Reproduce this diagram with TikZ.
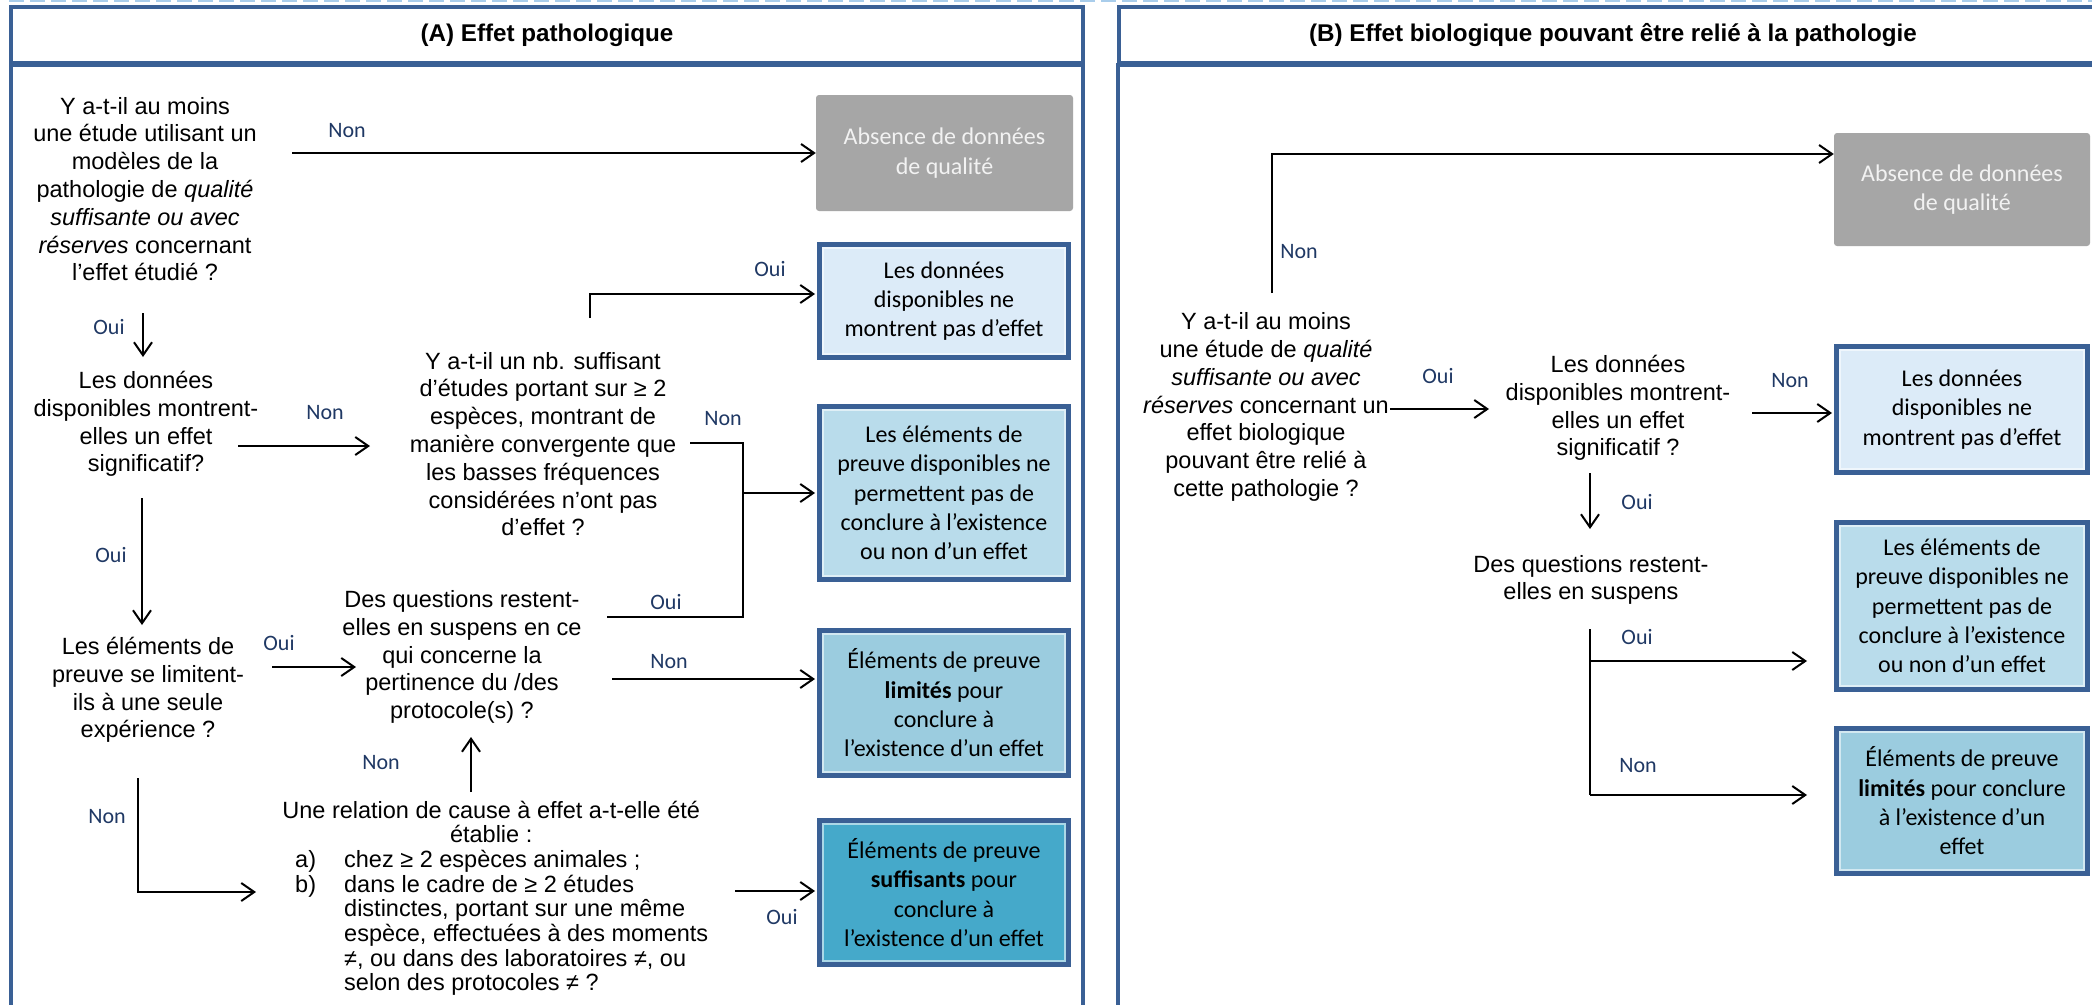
\documentclass[tikz,border=0pt]{standalone}
\usepackage{fontspec}
\setmainfont{Liberation Sans}
\newfontfamily\calib{Carlito}
\usetikzlibrary{arrows.meta}
\definecolor{frame}{HTML}{3A6095}
\definecolor{lbl}{HTML}{1F3864}
\definecolor{fone}{HTML}{DCEBF8}
\definecolor{ftwo}{HTML}{B9DCEB}
\definecolor{fthree}{HTML}{9BCCDF}
\definecolor{ffour}{HTML}{45A9CA}
\definecolor{gbox}{HTML}{A6A6A6}
\definecolor{dashc}{HTML}{A9CDEB}
\begin{document}
\begin{tikzpicture}[x=1pt,y=-1pt,
  panel/.style={draw=frame, line width=4pt},
  ttl/.style={font=\fontsize{24.2}{28}\selectfont\bfseries, inner sep=0pt},
  qtext/.style={align=center, inner sep=0pt, font=\fontsize{23.5}{27.8}\selectfont},
  res/.style={draw=frame, line width=5pt, fill=#1, minimum width=249pt, align=center, inner sep=0pt,
    font=\calib\fontsize{24}{29.3}\selectfont,
    path picture={\draw[line width=2pt, #1!45!white] ([xshift=3.5pt,yshift=-3.5pt]path picture bounding box.north west) rectangle ([xshift=-3.5pt,yshift=3.5pt]path picture bounding box.south east);}},
  nodata/.style={fill=gbox, rounded corners=3pt, minimum width=257pt, align=center, inner sep=0pt,
    text=white!95!black, font=\calib\fontsize{24}{29.3}\selectfont},
  lab/.style={text=lbl, font=\calib\fontsize{22}{26}\selectfont, inner sep=0pt},
  arr/.style={draw=black, line width=2pt, -{Straight Barb[length=13pt,width=18pt]}},
  ln/.style={draw=black, line width=2.6pt, line join=miter},
]
\useasboundingbox (0,0) rectangle (2092,1004);
\clip (0,0) rectangle (2092,1004);
\fill[white] (0,0) rectangle (2092,1004);

% top dashed line
\draw[dashc, line width=3.5pt, dash pattern=on 15pt off 6pt] (9,0) -- (2092,0);

% panels
\draw[panel] (11,7) rectangle (1083,63);
\draw[panel] (11,65) rectangle (1083,1040);
\draw[panel] (1119,7) rectangle (2108,63);
\draw[panel] (1118,65) rectangle (2108,1040);

\node[ttl] (tA) at (547,35) {(A) Effet pathologique};
\node[ttl] (tB) at (1613,35) {(B) Effet biologique pouvant être relié à la pathologie};

% ---------- Panel A: questions
\node[qtext] (q1) at (145,189) {Y a-t-il au moins\\une étude utilisant un\\modèles de la\\pathologie de \textit{qualité}\\\textit{suffisante ou avec}\\\textit{réserves} concernant\\l’effet étudié ?};
\node[qtext] (qd) at (146,424) {Les données\\disponibles montrent-\\elles un effet\\significatif?};
\node[qtext] (q2) at (543,444) {Y a-t-il un nb. suffisant\\d’études portant sur ≥ 2\\espèces, montrant de\\manière convergente que\\les basses fréquences\\considérées n’ont pas\\d’effet ?};
\node[qtext] (q3) at (462,657) {Des questions restent-\\elles en suspens en ce\\qui concerne la\\pertinence du /des\\protocole(s) ?};
\node[qtext] (q4) at (148,690) {Les éléments de\\preuve se limitent-\\ils à une seule\\expérience ?};
\node[anchor=base west, inner sep=0pt, font=\fontsize{23.5}{24.7}\selectfont] (q5) at (278,818) {\begin{minipage}[t]{480pt}\makebox[426pt][c]{Une relation de cause à effet a-t-elle été}\par
\makebox[426pt][c]{établie :}\par\raggedright
\leftskip=17pt \makebox[49pt][l]{a)}chez ≥ 2 espèces animales ;\par
\leftskip=66pt \hspace*{-49pt}\makebox[49pt][l]{b)}dans le cadre de ≥ 2 études\\distinctes, portant sur une même\\espèce, effectuées à des moments\\≠, ou dans des laboratoires ≠, ou\\selon des protocoles ≠ ?\end{minipage}};

% ---------- Panel A: results
\node[nodata, minimum height=116pt] (n1) at (944.5,153) {Absence de données\\de qualité};
\node[res=fone, minimum height=113pt] (b1) at (944,301) {Les données\\disponibles ne\\montrent pas d’effet};
\node[res=ftwo, minimum height=173pt] (b2) at (944,493) {Les éléments de\\preuve disponibles ne\\permettent pas de\\conclure à l’existence\\ou non d’un effet};
\node[res=fthree, minimum height=145pt] (b3) at (944,703) {Éléments de preuve\\\textbf{limités} pour\\conclure à\\l’existence d’un effet};
\node[res=ffour, minimum height=144pt] (b4) at (944,892.5) {Éléments de preuve\\\textbf{suffisants} pour\\conclure à\\l’existence d’un effet};

% ---------- Panel A: connectors
\coordinate (a1s) at (292,153);
\draw[arr] (a1s) -- (n1.west |- a1s);
\coordinate (a2s) at (143,313); \coordinate (a2e) at (143,357);
\draw[arr] (a2s) -- (a2e);
\coordinate (a3s) at (238,446); \coordinate (a3e) at (370,446);
\draw[arr] (a3s) -- (a3e);
\coordinate (a4s) at (590,318); \coordinate (a4m) at (590,294);
\draw[arr, shorten >=2pt] (a4s) -- (a4m) -- (b1.west |- a4m);
\coordinate (brT) at (690,443); \coordinate (brR) at (743,443);
\coordinate (brB) at (743,617); \coordinate (q3o) at (607,617);
\draw[ln] (brT) -- (brR) -- (brB) -- (q3o);
\coordinate (brM) at (743,493);
\draw[arr, shorten >=2pt] (brM) -- (b2.west |- brM);
\coordinate (a6s) at (142,498); \coordinate (a6e) at (142,625);
\draw[arr] (a6s) -- (a6e);
\coordinate (a7s) at (272,667); \coordinate (a7e) at (356,667);
\draw[arr] (a7s) -- (a7e);
\coordinate (a8s) at (612,679);
\draw[arr, shorten >=2pt] (a8s) -- (b3.west |- a8s);
\coordinate (a9s) at (471,792); \coordinate (a9e) at (471,737);
\draw[arr] (a9s) -- (a9e);
\coordinate (a10s) at (138,778); \coordinate (a10m) at (138,892); \coordinate (a10e) at (256,892);
\draw[arr] (a10s) -- (a10m) -- (a10e);
\coordinate (a11s) at (735,891);
\draw[arr, shorten >=2pt] (a11s) -- (b4.west |- a11s);

% ---------- Panel A: labels
\node[lab] (l1) at (347,131) {Non};
\node[lab] (l2) at (109,327) {Oui};
\node[lab] (l3) at (325,413) {Non};
\node[lab] (l4) at (770,269) {Oui};
\node[lab] (l5) at (723,419) {Non};
\node[lab] (l6) at (666,602) {Oui};
\node[lab] (l7) at (111,555) {Oui};
\node[lab] (l8) at (279,643) {Oui};
\node[lab] (l9) at (669,662) {Non};
\node[lab] (l10) at (381,763) {Non};
\node[lab] (l11) at (107,817) {Non};
\node[lab] (l12) at (782,917) {Oui};

% ---------- Panel B
\node[qtext] (p1) at (1266,407) {Y a-t-il au moins\\une étude de \textit{qualité}\\\textit{suffisante ou avec}\\\textit{réserves} concernant un\\effet biologique\\pouvant être relié à\\cette pathologie ?};
\node[qtext] (p2) at (1618,408) {Les données\\disponibles montrent-\\elles un effet\\significatif ?};
\node[qtext] (p3) at (1591,580) {Des questions restent-\\elles en suspens};

\node[nodata, minimum width=256pt, minimum height=113pt] (n2) at (1962,189.5) {Absence de données\\de qualité};
\node[res=fone, minimum width=251pt, minimum height=126pt] (c1) at (1962,409.5) {Les données\\disponibles ne\\montrent pas d’effet};
\node[res=ftwo, minimum width=251pt, minimum height=167pt] (c2) at (1962,606) {Les éléments de\\preuve disponibles ne\\permettent pas de\\conclure à l’existence\\ou non d’un effet};
\node[res=fthree, minimum width=251pt, minimum height=145pt] (c3) at (1962,801) {Éléments de preuve\\\textbf{limités} pour conclure\\à l’existence d’un\\effet};

\coordinate (e1s) at (1272,293); \coordinate (e1m) at (1272,154);
\draw[arr] (e1s) -- (e1m) -- (n2.west |- e1m);
\coordinate (e2s) at (1390,409); \coordinate (e2e) at (1489,409);
\draw[arr] (e2s) -- (e2e);
\coordinate (e3s) at (1752,413);
\draw[arr, shorten >=2pt] (e3s) -- (c1.west |- e3s);
\coordinate (e4s) at (1590,473); \coordinate (e4e) at (1590,529);
\draw[arr] (e4s) -- (e4e);
\coordinate (fT) at (1590,629); \coordinate (fO) at (1590,661); \coordinate (fN) at (1590,795);
\draw[ln, line width=2pt] (fT) -- (fN);
\draw[arr] (fO) -- ([xshift=-27pt]c2.west |- fO);
\draw[arr] (fN) -- ([xshift=-27pt]c3.west |- fN);

\node[lab] (m1) at (1299,252) {Non};
\node[lab] (m2) at (1438,376) {Oui};
\node[lab] (m3) at (1790,381) {Non};
\node[lab] (m4) at (1637,502) {Oui};
\node[lab] (m5) at (1637,637) {Oui};
\node[lab] (m6) at (1638,766) {Non};
\end{tikzpicture}
\end{document}
